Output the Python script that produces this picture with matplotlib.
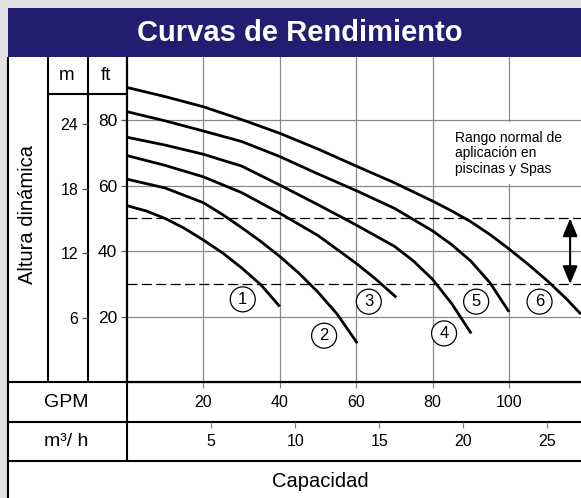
import matplotlib
matplotlib.use("Agg")
import matplotlib.pyplot as plt
from matplotlib.patches import Rectangle

plt.rcParams['font.family'] = ['Liberation Sans', 'DejaVu Sans']

# curve data: capacity (GPM) vs head (ft)
c1_gpm = [0, 5, 10, 15, 20, 25, 30, 35, 40]
c1_ft = [53.9, 52.3, 50.0, 47.0, 43.4, 39.5, 34.9, 29.8, 23.1]
c2_gpm = [0, 10, 20, 25, 30, 35, 40, 45, 50, 55, 60.3]
c2_ft = [62.0, 59.3, 54.8, 51.2, 47.2, 43.0, 38.4, 33.3, 27.5, 20.8, 11.9]
c3_gpm = [0, 10, 20, 30, 40, 50, 60, 65, 70.5]
c3_ft = [69.2, 66.2, 62.7, 57.9, 51.6, 44.8, 36.3, 31.6, 25.9]
c4_gpm = [0, 10, 20, 30, 40, 50, 60, 70, 75, 80, 85, 90.1]
c4_ft = [74.8, 72.4, 69.6, 66.0, 60.2, 54.2, 48.0, 41.5, 37.0, 31.4, 24.0, 14.9]
c5_gpm = [0, 10, 20, 30, 40, 50, 60, 70, 80, 85, 90, 95, 100]
c5_ft = [82.6, 79.8, 76.7, 73.5, 68.9, 63.6, 58.5, 53.1, 46.2, 42.0, 37.0, 30.4, 21.5]
c6_gpm = [0, 10, 20, 30, 40, 50, 60, 70, 80, 85, 90, 95, 100, 105, 110, 115, 118.8]
c6_ft = [90.0, 87.2, 84.1, 80.2, 76.0, 71.2, 66.0, 60.9, 55.3, 52.3, 49.0, 45.1,
         40.7, 36.0, 31.0, 25.5, 20.8]
curve_names = ['1', '2', '3', '4', '5', '6']

gpm_ticks = [20, 40, 60, 80, 100]
m3h_ticks = [5, 10, 15, 20, 25]
ft_ticks = [20, 40, 60, 80]
m_ticks = [6, 12, 18, 24]
range_low, range_high = 30, 50   # normal pool/spa range, ft

# layout (label positions in data units)
label_gpm = [30.3, 51.6, 63.3, 83.0, 91.4, 108.0]
label_ft = [25.3, 14.2, 24.6, 14.9, 24.6, 24.6]

FT_PER_M = 3.2808
GPM_PER_M3H = 4.4029

W, H = 581, 498
fig = plt.figure(figsize=(W / 100, H / 100), dpi=100, facecolor='#e2e2e2')

# frame in pixel coords
fr = fig.add_axes([0, 0, 1, 1])
fr.set_xlim(0, W)
fr.set_ylim(H, 0)
fr.axis('off')
fr.add_patch(Rectangle((7.5, 8), 700, 600, fc='white', ec='none'))
fr.add_patch(Rectangle((7.5, 8), 700, 48.5, fc='#221d70', ec='none'))
fr.text(300, 32.5, 'Curvas de Rendimiento', color='white', fontsize=21,
        fontweight='bold', ha='center', va='center')

lk = dict(color='black', lw=1.5, solid_capstyle='butt')
fr.plot([8, 8], [56.5, H], **lk)
fr.plot([48, 48], [56.5, 382.2], **lk)
fr.plot([88, 88], [56.5, 382.2], **lk)
fr.plot([127, 127], [382, 461], **lk)
fr.plot([48, 127], [94, 94], **lk)
for yy in [382.2, 422, 461]:
    fr.plot([8, W], [yy, yy], **lk)

fr.text(27.5, 214, 'Altura dinámica', rotation=90, fontsize=14.5,
        ha='center', va='center')
fr.text(67, 75.5, 'm', fontsize=13.5, ha='center', va='center')
fr.text(106, 75.5, 'ft', fontsize=13.5, ha='center', va='center')
fr.text(66, 402.5, 'GPM', fontsize=14, ha='center', va='center')
fr.text(66, 441.5, 'm³/ h', fontsize=14, ha='center', va='center')
fr.text(320, 481, 'Capacidad', fontsize=14.5, ha='center', va='center')

# main plot
ax = fig.add_axes([127 / W, 1 - 382.2 / H, (W - 127) / W, 325.2 / H])
ax.set_xlim(0, 118.85)
ax.set_ylim(0, 99.3)
ax.set_axisbelow(True)
for s in ['top', 'right']:
    ax.spines[s].set_visible(False)
for s in ['left', 'bottom']:
    ax.spines[s].set_linewidth(1.6)

ax.set_xticks(gpm_ticks)
ax.set_yticks(ft_ticks)
ax.grid(True, color='#8a8a8a', lw=0.9)
ax.tick_params(axis='x', direction='out', length=4.5, width=0.8, color='#808080',
               labelsize=11.5, pad=4.5)
ax.tick_params(axis='y', direction='out', length=4.5, width=0.9, color='#555555',
               labelsize=12.5, pad=2.5)

secy = ax.secondary_yaxis((88 - 127) / (W - 127),
                          functions=(lambda f: f / FT_PER_M, lambda m: m * FT_PER_M))
secy.set_yticks(m_ticks)
secy.spines['left'].set_visible(False)
secy.tick_params(direction='out', length=4.5, width=0.9, color='#555555',
                 labelsize=11.5, pad=2.5)

secx = ax.secondary_xaxis(-(422 - 382.2) / 325.2,
                          functions=(lambda g: g / GPM_PER_M3H, lambda q: q * GPM_PER_M3H))
secx.set_xticks(m3h_ticks)
secx.spines['bottom'].set_visible(False)
secx.tick_params(direction='out', length=4, width=0.8, color='#808080',
                 labelsize=11.5, pad=5)

for yv in [range_low, range_high]:
    ax.axhline(yv, color='black', lw=0.9, ls=(0, (8, 3.5)), zorder=1)

curves = [(c1_gpm, c1_ft), (c2_gpm, c2_ft), (c3_gpm, c3_ft),
          (c4_gpm, c4_ft), (c5_gpm, c5_ft), (c6_gpm, c6_ft)]
for (g, f) in curves:
    ax.plot(g, f, color='black', lw=2.0, solid_capstyle='butt',
            solid_joinstyle='round', zorder=3)

for name, gx, fy in zip(curve_names, label_gpm, label_ft):
    ax.text(gx, fy, name, fontsize=12, ha='center', va='center', zorder=4,
            bbox=dict(boxstyle='circle,pad=0.3', fc='white', ec='black', lw=0.9))

# white box behind the range note
ax.add_patch(Rectangle((84.5, 60.4), 40, 19.2, fc='white', ec='none', zorder=1.5))
ax.text(85.9, 69.9, 'Rango normal de\naplicación en\npiscinas y Spas',
        fontsize=10, ha='left', va='center', linespacing=1.15, zorder=4)

ax.annotate('', xy=(116, range_high), xytext=(116, range_low),
            arrowprops=dict(arrowstyle='<|-|>,head_length=0.6,head_width=0.25',
                            color='black', lw=1.5, mutation_scale=18,
                            shrinkA=0, shrinkB=0), zorder=4)

fig.savefig('out.png', dpi=100, facecolor=fig.get_facecolor())
